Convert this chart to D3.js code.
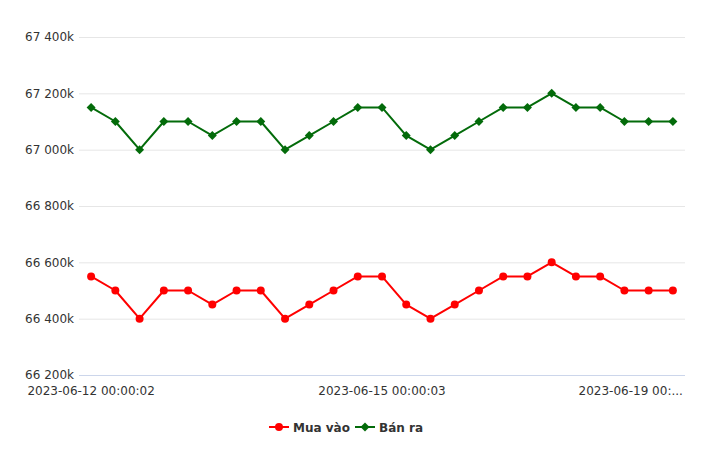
<!DOCTYPE html>
<html>
<head>
<meta charset="utf-8">
<script src="https://cdn.jsdelivr.net/npm/d3@7/dist/d3.min.js"></script>
<style>
  html, body { margin: 0; padding: 0; background: #fff; }
  svg { display: block; }
  svg text { font-family: "DejaVu Sans", sans-serif; }
</style>
</head>
<body>
<div id="chart"></div>
<script>
// ---- data ----
const categories = d3.range(25);
const muaVao = [66550, 66500, 66400, 66500, 66500, 66450, 66500, 66500, 66400, 66450, 66500, 66550, 66550,
                66450, 66400, 66450, 66500, 66550, 66550, 66600, 66550, 66550, 66500, 66500, 66500];
const banRa  = [67150, 67100, 67000, 67100, 67100, 67050, 67100, 67100, 67000, 67050, 67100, 67150, 67150,
                67050, 67000, 67050, 67100, 67150, 67150, 67200, 67150, 67150, 67100, 67100, 67100];
const yTicks = [66200, 66400, 66600, 66800, 67000, 67200, 67400];
const xTickIndex = [0, 12, 24];
const xTickLabels = ["2023-06-12 00:00:02", "2023-06-15 00:00:03", "2023-06-19 00:..."];
const seriesNames = ["Mua vào", "Bán ra"];

// ---- layout ----
const W = 720, H = 454;
const plotLeft = 79, plotRight = 685, plotTop = 37, plotBottom = 375;
const red = "#ff0000", green = "#036b0a";
const FONT = "DejaVu Sans, sans-serif";

const svg = d3.select("#chart").append("svg").attr("width", W).attr("height", H);

const x = d3.scaleBand().domain(categories).range([plotLeft, plotRight]);
const cx = i => x(i) + x.bandwidth() / 2;
const y = d3.scaleLinear().domain([66200, 67400]).range([plotBottom, plotTop]);

const fmt = v => d3.format(",")(v).replace(/,/g, " ") + "k";

// grid + y labels
const yAxis = d3.axisLeft(y).tickValues(yTicks).tickSize(-(plotRight - plotLeft)).tickFormat(fmt).tickPadding(5);
const gy = svg.append("g").attr("transform", `translate(${plotLeft},0)`).call(yAxis)
  .attr("font-family", FONT).attr("font-size", 12);
gy.select(".domain").remove();
gy.selectAll(".tick line").attr("stroke", "#e6e6e6").attr("stroke-width", 1);
gy.selectAll(".tick text").attr("fill", "#333").attr("x", -5).attr("dy", "0.32em");

// x axis
const xAxis = d3.axisBottom(x).tickValues(xTickIndex).tickSize(0)
  .tickFormat((d, i) => xTickLabels[i]);
const gx = svg.append("g").attr("transform", `translate(0,${plotBottom})`).call(xAxis)
  .attr("font-family", FONT).attr("font-size", 12);
gx.select(".domain").attr("stroke", "#ccd6eb").attr("d", `M${plotLeft},0.5H${plotRight}`);
gx.selectAll(".tick text").attr("fill", "#333").attr("y", 11).attr("dy", "0.71em");
gx.selectAll(".tick").filter((d, i) => i === xTickIndex.length - 1).select("text")
  .attr("text-anchor", "end").attr("x", 10);

// lines
const line = d3.line().x((d, i) => cx(i)).y(d => y(d));
function drawSeries(data, color, shape) {
  svg.append("path").datum(data).attr("d", line).attr("fill", "none")
    .attr("stroke", color).attr("stroke-width", 2).attr("stroke-linejoin", "round");
  const sym = d3.symbol().type(shape).size(shape === d3.symbolCircle ? 50 : 40);
  svg.append("g").selectAll("path").data(data).join("path")
    .attr("transform", (d, i) => `translate(${cx(i)},${y(d)})` + (shape === d3.symbolSquare ? " rotate(45)" : ""))
    .attr("d", sym).attr("fill", color);
}
drawSeries(muaVao, red, d3.symbolCircle);
drawSeries(banRa, green, d3.symbolSquare);

// legend
const legend = svg.append("g").attr("transform", "translate(0,427)");
const items = [
  {name: seriesNames[0], color: red, shape: d3.symbolCircle, x: 269, size: 50},
  {name: seriesNames[1], color: green, shape: d3.symbolSquare, x: 355, size: 40}
];
items.forEach(it => {
  const g = legend.append("g").attr("transform", `translate(${it.x},0)`);
  g.append("line").attr("x1", 0).attr("x2", 20).attr("y1", 0).attr("y2", 0)
    .attr("stroke", it.color).attr("stroke-width", 2);
  g.append("path").attr("transform", "translate(10,0)" + (it.shape === d3.symbolSquare ? " rotate(45)" : ""))
    .attr("d", d3.symbol().type(it.shape).size(it.size)).attr("fill", it.color);
  g.append("text").attr("x", 24).attr("y", 4.5).text(it.name)
    .attr("font-size", 12).attr("font-weight", "bold").attr("fill", "#333");
});
</script>
</body>
</html>
